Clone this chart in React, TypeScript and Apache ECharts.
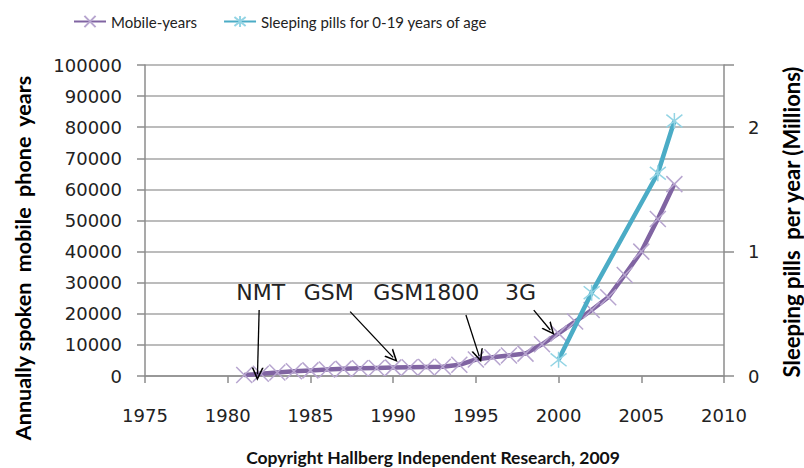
import React, { useEffect, useRef } from "react";
import * as echarts from "echarts";

const mobileYears = [1981, 1982, 1983, 1984, 1985, 1986, 1987, 1988, 1989, 1990, 1991, 1992, 1993, 1994, 1995, 1996, 1997, 1998, 1999, 2000, 2001, 2002, 2003, 2004, 2005, 2006, 2007];
const mobileValues = [300, 700, 1100, 1500, 1800, 2100, 2300, 2500, 2600, 2700, 2800, 2900, 3000, 3600, 5300, 6000, 6600, 7200, 10200, 13700, 17500, 21200, 25300, 32500, 40000, 50500, 61700];

const pillYears = [2000, 2002, 2006, 2007];
const pillValues = [0.13, 0.67, 1.63, 2.05];

const xTicks = { min: 1975, max: 2010, interval: 5 };
const yLeftTicks = { min: 0, max: 100000, interval: 10000 };
const yRightTicks = { min: 0, max: 2.5, interval: 1 };

const annotationNames = ["NMT", "GSM", "GSM1800", "3G"];
const annotationLabelX = [1982.0, 1986.1, 1992.0, 1997.7];
const annotationLabelY = [26700, 26700, 26700, 26700];
const arrowStartX = [1981.9, 1987.4, 1994.4, 1998.5];
const arrowStartY = [21200, 20700, 19600, 21200];
const arrowEndX = [1981.8, 1990.0, 1995.2, 1999.5];
const arrowEndY = [600, 6000, 6400, 14800];

const seriesNames = ["Mobile-years", "Sleeping pills for 0-19 years of age"];

const SYMBOL_X = "path://M0,0L10,10M10,0L0,10";
const SYMBOL_STAR = "path://M1,1L9,9M9,1L1,9M5,0L5,10";
const ARROW_HEAD = "path://M5,0L10,10L8.6,10L5,2.8L1.4,10L0,10Z";

export default function App() {
  const ref = useRef<HTMLDivElement>(null);
  useEffect(() => {
    document.body.style.margin = "0";
    if (!ref.current) return;
    const chart = echarts.init(ref.current, null, { renderer: "svg" });
    const tickFont = { fontFamily: "DejaVu Sans", fontSize: 18, color: "#222" };
    chart.setOption({
      animation: false,
      backgroundColor: "#fff",
      legend: {
        top: 9,
        left: 68,
        itemWidth: 32,
        itemHeight: 14,
        itemGap: 26,
        textStyle: { fontFamily: "Lato", fontSize: 15, color: "#222" },
        data: seriesNames,
      },
      grid: { left: 145, right: 80, top: 65, bottom: 92 },
      xAxis: {
        type: "value",
        min: xTicks.min,
        max: xTicks.max,
        interval: xTicks.interval,
        axisLine: { show: true, lineStyle: { color: "#8c8c8c", width: 1.5 } },
        axisTick: { show: true, length: 7, lineStyle: { color: "#8c8c8c", width: 1.5 } },
        splitLine: { show: false },
        axisLabel: { ...tickFont, margin: 30, formatter: (v: number) => String(v) },
      },
      yAxis: [
        {
          type: "value",
          min: yLeftTicks.min,
          max: yLeftTicks.max,
          interval: yLeftTicks.interval,
          axisLine: { show: true, lineStyle: { color: "#8c8c8c", width: 1.5 } },
          axisTick: { show: true, length: 8, lineStyle: { color: "#8c8c8c", width: 1.5 } },
          splitLine: { show: true, lineStyle: { color: "#a6a6a6", width: 1.5 } },
          axisLabel: { ...tickFont, margin: 23, formatter: (v: number) => String(v) },
        },
        {
          type: "value",
          position: "right",
          min: yRightTicks.min,
          max: yRightTicks.max,
          interval: yRightTicks.interval,
          axisLine: { show: true, lineStyle: { color: "#8c8c8c", width: 1.5 } },
          axisTick: { show: true, length: 10, lineStyle: { color: "#8c8c8c", width: 1.5 } },
          splitLine: { show: false },
          axisLabel: {
            ...tickFont,
            margin: 24,
            formatter: (v: number) => (Number.isInteger(v) ? String(v) : ""),
          },
        },
      ],
      series: [
        {
          name: seriesNames[0],
          type: "line",
          yAxisIndex: 0,
          data: mobileYears.map((y, i) => [y, mobileValues[i]]),
          symbol: SYMBOL_X,
          symbolSize: 16,
          lineStyle: { color: "#8064a2", width: 4.5 },
          itemStyle: { color: "#b7a5cf", borderColor: "#b7a5cf", borderWidth: 1.5 },
          z: 3,
          markLine: {
            silent: true,
            symbol: ["none", ARROW_HEAD],
            symbolSize: [12, 13],
            lineStyle: { color: "#000", width: 1.3, type: "solid" },
            label: { show: false },
            emphasis: { disabled: true },
            data: annotationNames.map((_, i) => [
              { coord: [arrowStartX[i], arrowStartY[i]] },
              { coord: [arrowEndX[i], arrowEndY[i]] },
            ]),
          },
          markPoint: {
            silent: true,
            symbol: "circle",
            symbolSize: 0,
            label: {
              show: true,
              formatter: "{b}",
              fontFamily: "DejaVu Sans",
              fontSize: 22,
              color: "#222",
            },
            data: annotationNames.map((n, i) => ({
              name: n,
              coord: [annotationLabelX[i], annotationLabelY[i]],
            })),
          },
        },
        {
          name: seriesNames[1],
          type: "line",
          yAxisIndex: 1,
          data: pillYears.map((y, i) => [y, pillValues[i]]),
          symbol: SYMBOL_STAR,
          symbolSize: 16,
          lineStyle: { color: "#4bacc6", width: 4.5 },
          itemStyle: { color: "#93d4e4", borderColor: "#93d4e4", borderWidth: 1.5 },
          z: 4,
        },
      ],
      graphic: [
        {
          type: "text",
          x: 23,
          y: 258,
          rotation: Math.PI / 2,
          style: {
            text: "Annually spoken  mobile  phone  years",
            fontFamily: "Lato",
            fontWeight: "bold",
            fontSize: 21.5,
            fill: "#000",
            align: "center",
            verticalAlign: "middle",
          },
        },
        {
          type: "text",
          x: 791,
          y: 222,
          rotation: Math.PI / 2,
          style: {
            text: "Sleeping pills  per year (Millions)",
            fontFamily: "Lato",
            fontWeight: "bold",
            fontSize: 22,
            fill: "#000",
            align: "center",
            verticalAlign: "middle",
          },
        },
        {
          type: "text",
          x: 433,
          y: 457,
          style: {
            text: "Copyright Hallberg Independent Research, 2009",
            fontFamily: "Lato",
            fontWeight: "bold",
            fontSize: 17.5,
            fill: "#111",
            align: "center",
            verticalAlign: "middle",
          },
        },
      ],
    });
    return () => chart.dispose();
  }, []);
  return <div ref={ref} style={{ width: 804, height: 468 }} />;
}
